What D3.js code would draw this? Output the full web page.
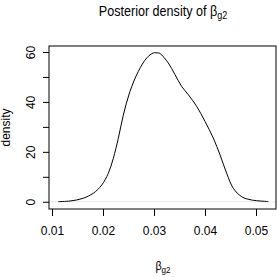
<!DOCTYPE html>
<html>
<head>
<meta charset="utf-8">
<script src="https://cdn.jsdelivr.net/npm/d3@7"></script>
<style>
  html, body { margin: 0; padding: 0; background: #fff; }
  svg { display: block; }
  text { font-family: "Liberation Sans Narrow", "Liberation Sans", Arial, sans-serif; fill: #000; }
</style>
</head>
<body>
<svg id="chart" width="277" height="277"></svg>
<script>
// Data: posterior density curve of beta_g2
const xValues = [0.01124, 0.01353, 0.01614, 0.01810, 0.01975, 0.02104, 0.02202, 0.02300, 0.02398, 0.02529,
                 0.02692, 0.02857, 0.02986, 0.03084, 0.03118, 0.03280, 0.03412, 0.03543, 0.03673, 0.03837,
                 0.04000, 0.04163, 0.04294, 0.04425, 0.04555, 0.04720, 0.04916, 0.05241];
const densityValues = [0.05, 0.3, 1.4, 3.4, 6.7, 11.4, 17.4, 25.4, 34.7, 44.2,
                       52.2, 57.6, 59.6, 59.6, 59.4, 55.6, 50.9, 46.2, 42.9, 38.2,
                       32.2, 25.5, 18.8, 11.4, 5.4, 2.0, 0.7, 0.1];
const xTicks = [0.01, 0.02, 0.03, 0.04, 0.05];
const xTickLabels = ["0.01", "0.02", "0.03", "0.04", "0.05"];
const yTicks = [0, 10, 20, 30, 40, 50, 60];
const yTickLabels = ["0", "", "20", "", "40", "", "60"];
const titleText = "Posterior density of β";
const titleSub = "g2";
const xLabelMain = "β";
const xLabelSub = "g2";
const yLabel = "density";

const svg = d3.select("#chart");
const box = { left: 49, right: 276, top: 46, bottom: 209 };

const x = d3.scaleLinear().domain([0.009412, 0.05392]).range([box.left, box.right]);
const y = d3.scaleLinear().domain([-2.9, 62.4]).range([box.bottom, box.top]);

const points = xValues.map((v, i) => [v, densityValues[i]]);

// zero line (gray)
svg.append("line")
  .attr("x1", box.left).attr("x2", box.right)
  .attr("y1", y(0)).attr("y2", y(0))
  .attr("stroke", "#d8d8d8").attr("stroke-width", 0.6);

// density curve
const line = d3.line()
  .x(d => x(d[0])).y(d => y(d[1]))
  .curve(d3.curveCatmullRom.alpha(0.5));
svg.append("path")
  .datum(points)
  .attr("d", line)
  .attr("fill", "none")
  .attr("stroke", "#000")
  .attr("stroke-width", 1);

// box
svg.append("rect")
  .attr("x", box.left).attr("y", box.top)
  .attr("width", box.right - box.left).attr("height", box.bottom - box.top)
  .attr("fill", "none").attr("stroke", "#000").attr("stroke-width", 1);

// x axis
const xAxis = d3.axisBottom(x).tickValues(xTicks).tickSize(7).tickPadding(10)
  .tickFormat((d, i) => xTickLabels[i]);
const gx = svg.append("g").attr("transform", `translate(0,${box.bottom})`).call(xAxis);
gx.select(".domain").remove();
gx.selectAll(".tick line").attr("stroke", "#000");
gx.selectAll(".tick text").attr("font-size", 12).attr("fill", "#000");

// y axis
const yAxis = d3.axisLeft(y).tickValues(yTicks).tickSize(6).tickPadding(0)
  .tickFormat((d, i) => yTickLabels[i]);
const gy = svg.append("g").attr("transform", `translate(${box.left},0)`).call(yAxis);
gy.select(".domain").remove();
gy.selectAll(".tick line").attr("stroke", "#000");
gy.selectAll(".tick text")
  .attr("font-size", 12).attr("fill", "#000")
  .attr("text-anchor", "middle")
  .attr("x", 0).attr("dy", 0)
  .attr("transform", "translate(-14,0) rotate(-90)");

// title (slightly condensed like the reference font)
const t = svg.append("text")
  .attr("transform", "translate(163,16) scale(0.9,1)")
  .attr("text-anchor", "middle")
  .attr("font-size", 14);
t.append("tspan").text(titleText);
t.append("tspan").attr("font-size", 10).attr("dy", 3).text(titleSub);

// x label
const xl = svg.append("text")
  .attr("transform", "translate(163,270) scale(0.9,1)")
  .attr("text-anchor", "middle")
  .attr("font-size", 12);
xl.append("tspan").text(xLabelMain);
xl.append("tspan").attr("font-size", 9).attr("dy", 3).text(xLabelSub);

// y label
svg.append("text")
  .attr("transform", `translate(10,${(box.top + box.bottom) / 2}) rotate(-90)`)
  .attr("text-anchor", "middle")
  .attr("font-size", 12)
  .text(yLabel);
</script>
</body>
</html>
